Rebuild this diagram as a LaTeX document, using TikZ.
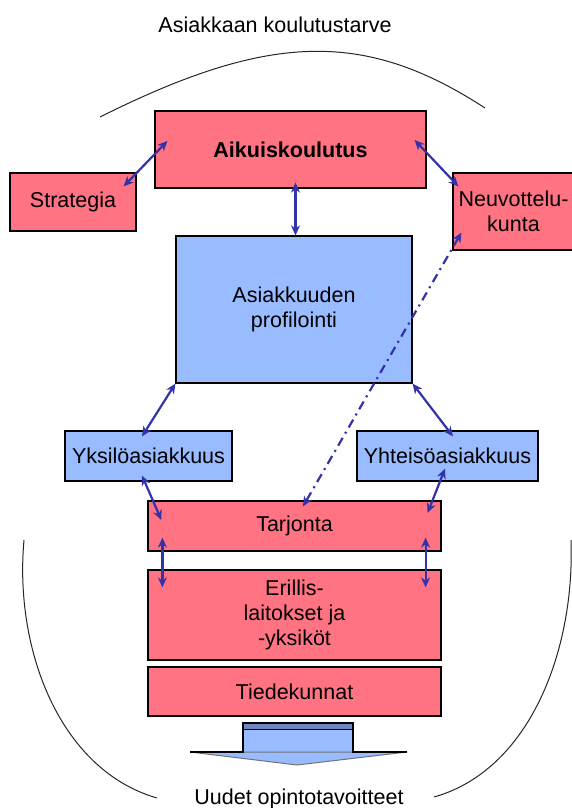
\documentclass[tikz,border=0pt]{standalone}
\usepackage{fontspec}
\setmainfont{Liberation Sans}
\usetikzlibrary{arrows.meta}
\definecolor{boxred}{RGB}{255,115,130}
\definecolor{boxblue}{RGB}{153,187,255}
\definecolor{bandblue}{RGB}{110,135,190}
\definecolor{linkblue}{RGB}{50,50,170}
\begin{document}
\begin{tikzpicture}[x=1pt,y=-1pt,
    txt/.style={inner sep=0pt,align=center,font=\fontsize{21.5}{25}\selectfont},
    redbox/.style={txt,draw=black,line width=1.2pt,fill=boxred},
    bluebox/.style={txt,draw=black,line width=1.2pt,fill=boxblue},
    link/.style={{Stealth[length=10pt,width=9pt]}-{Stealth[length=10pt,width=9pt]},draw=linkblue,line width=2.2pt},
    dashlink/.style={link,dash pattern=on 9pt off 5pt on 2pt off 5pt}]
  \useasboundingbox (0,0) rectangle (572,808);
  \node[txt,anchor=base] (need) at (275,33) {Asiakkaan koulutustarve};
  \node[txt,anchor=base] (goal) at (299,804) {Uudet opintotavoitteet};
  \draw[black!85,line width=1pt] (100,117) .. controls (270,32) and (365,30) .. (485,108);
  \draw[black!85,line width=1pt] (24,540) .. controls (14,650) and (60,770) .. (157,798);
  \draw[black!85,line width=1pt] (571,540) .. controls (575,650) and (530,770) .. (434,797);
  \node[redbox,minimum width=271pt,minimum height=77pt] (aik) at (290.5,149.5) {\textbf{Aikuiskoulutus}};
  \node[redbox,minimum width=126pt,minimum height=58pt] (strat) at (73,202) {Strategia};
  \node[redbox,minimum width=121pt,minimum height=77pt] (neuv) at (513.5,211.5) {Neuvottelu-\\kunta};
  \node[bluebox,minimum width=236pt,minimum height=147pt] (prof) at (294,309.5) {Asiakkuuden\\profilointi};
  \node[bluebox,minimum width=167pt,minimum height=50pt] (yks) at (148.5,456) {Yksilöasiakkuus};
  \node[bluebox,minimum width=181pt,minimum height=50pt] (yht) at (447.5,456) {Yhteisöasiakkuus};
  \node[redbox,minimum width=293pt,minimum height=50pt] (tarj) at (294.5,526) {Tarjonta};
  \node[redbox,minimum width=293pt,minimum height=90pt] (eril) at (294.5,615) {Erillis-\\laitokset ja\\-yksiköt};
  \node[redbox,minimum width=293pt,minimum height=49pt] (tied) at (294.5,691.5) {Tiedekunnat};
  \fill[boxblue] (243,723) rectangle (353,752);
  \filldraw[fill=boxblue,draw=black!55,line width=1pt] (190,752) -- (297,765) -- (407,752) -- cycle;
  \draw[black,line width=1.4pt] (190,752) -- (243,752) -- (243,723) -- (353,723) -- (353,752) -- (407,752);
  \filldraw[fill=bandblue,draw=black,line width=1.4pt] (243,723) rectangle (353,729.5);
  \begin{scope}[link]
    \draw ([xshift=-13pt,yshift=-14pt]strat.north east) -- ([xshift=13pt,yshift=8.5pt]aik.west);
    \draw ([xshift=-12pt,yshift=9.5pt]aik.east) -- ([xshift=6pt,yshift=-14pt]neuv.north west);
    \draw ([xshift=5pt,yshift=6pt]aik.south) -- ([xshift=1.5pt]prof.north);
    \draw (prof.south west) -- ([xshift=-6.5pt,yshift=-6pt]yks.north);
    \draw (prof.south east) -- ([xshift=5.5pt,yshift=-6pt]yht.north);
    \draw ([xshift=-6.5pt,yshift=6pt]yks.south) -- ([xshift=14pt,yshift=6pt]tarj.west);
    \draw ([xshift=-2.5pt,yshift=13pt]yht.south) -- ([xshift=-14pt,yshift=13pt]tarj.east);
    \draw ([xshift=15pt,yshift=14pt]tarj.south west) -- ([xshift=15pt,yshift=-18pt]eril.north west);
    \draw ([xshift=-16pt,yshift=14pt]tarj.south east) -- ([xshift=-16pt,yshift=-18pt]eril.north east);
    \draw[dashlink] ([xshift=9pt,yshift=18pt]neuv.south west) -- ([xshift=8.5pt,yshift=-6pt]tarj.north);
  \end{scope}
\end{tikzpicture}
\end{document}
